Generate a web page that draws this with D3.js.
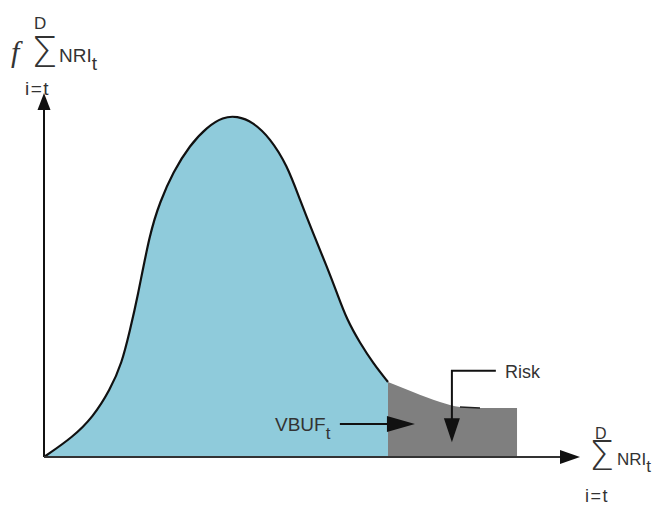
<!DOCTYPE html>
<html>
<head>
<meta charset="utf-8">
<script src="https://cdn.jsdelivr.net/npm/d3@7"></script>
<style>
  body { margin: 0; background: #fff; }
  text { font-family: "Liberation Sans", Arial, sans-serif; fill: #333; }
</style>
</head>
<body>
<script>
// density curve (x, y in arbitrary 0..100 units)
const curveX = [0, 5.41, 9.14, 12.31, 14.55, 16.04, 17.35, 19.78, 21.64, 24.07, 27.24, 30.41, 33.40, 36.01,
  38.99, 42.16, 45.34, 47.76, 50.19, 52.80, 54.66, 56.53, 58.96, 61.38, 64.18];
const curveY = [0, 5.52, 11.05, 18.51, 25.97, 35.08, 43.37, 62.15, 70.44, 78.73, 86.19, 91.16, 93.92, 94.20,
  92.54, 88.12, 80.66, 70.99, 61.88, 52.49, 45.30, 37.85, 31.49, 25.97, 20.72];

// shaded risk region (curve tail then flat cut-off)
const riskX = [64.18, 68.84, 73.88, 77.61, 81.34, 88.25];
const riskY = [20.72, 17.96, 15.19, 13.81, 13.54, 13.54];

// annotation arrows
const riskArrow = [[84.3, 23.8], [76.1, 23.8], [76.1, 4.1]];
const vbufArrow = [[55.2, 9.1], [69.2, 9.1]];

const W = 660, H = 505;
const svg = d3.select('body').append('svg').attr('width', W).attr('height', H);

const x = d3.scaleLinear().domain([0, 100]).range([44, 580]);
const y = d3.scaleLinear().domain([0, 100]).range([457, 95]);

const pts = curveX.map((v, i) => [v, curveY[i]]);
const riskPts = riskX.map((v, i) => [v, riskY[i]]);

const area = d3.area().x(d => x(d[0])).y0(y(0)).y1(d => y(d[1])).curve(d3.curveBasis);
const line = d3.line().x(d => x(d[0])).y(d => y(d[1])).curve(d3.curveBasis);

svg.append('path').attr('d', area(pts)).attr('fill', '#8fcbdb');
svg.append('path').attr('d', area.curve(d3.curveMonotoneX)(riskPts)).attr('fill', '#7f7f7f');
svg.append('path').attr('d', line(pts)).attr('fill', 'none').attr('stroke', '#111').attr('stroke-width', 2.2);
svg.append('path').attr('d', line(riskPts.slice(3, 5))).attr('fill', 'none').attr('stroke', '#222').attr('stroke-width', 1.5);

// arrowhead helper
function head(tx, ty, dx, dy, len, hw) {
  const bx = tx - dx * len, by = ty - dy * len;
  const nx = -dy, ny = dx;
  return `M${tx},${ty}L${bx + nx * hw},${by + ny * hw}L${bx - nx * hw},${by - ny * hw}Z`;
}

// axes
svg.append('line').attr('x1', x(0)).attr('y1', y(0)).attr('x2', x(0)).attr('y2', y(100) + 10)
  .attr('stroke', '#111').attr('stroke-width', 2);
svg.append('path').attr('d', head(x(0), y(100) - 2, 0, -1, 17, 6.5)).attr('fill', '#111');
svg.append('line').attr('x1', x(0)).attr('y1', y(0)).attr('x2', x(100) - 10).attr('y2', y(0))
  .attr('stroke', '#333').attr('stroke-width', 2);
svg.append('path').attr('d', head(x(100), y(0), 1, 0, 20, 7)).attr('fill', '#111');

// risk arrow
const aLine = d3.line().x(d => x(d[0])).y(d => y(d[1]));
const rEnd = riskArrow[riskArrow.length - 1];
svg.append('path').attr('d', aLine(riskArrow.slice(0, -1).concat([[rEnd[0], rEnd[1] + 6]])))
  .attr('fill', 'none').attr('stroke', '#111').attr('stroke-width', 2);
svg.append('path').attr('d', head(x(rEnd[0]), y(rEnd[1]), 0, 1, 24, 8)).attr('fill', '#111');

// vbuf arrow
const vEnd = vbufArrow[1];
svg.append('path').attr('d', aLine([vbufArrow[0], [vEnd[0] - 4, vEnd[1]]]))
  .attr('fill', 'none').attr('stroke', '#111').attr('stroke-width', 2);
svg.append('path').attr('d', head(x(vEnd[0]), y(vEnd[1]), 1, 0, 28, 8)).attr('fill', '#111');

// labels
svg.append('text').attr('x', 505).attr('y', 378).attr('font-size', 18).text('Risk');
const vb = svg.append('text').attr('x', 275).attr('y', 431).attr('font-size', 19);
vb.append('tspan').text('VBUF');
vb.append('tspan').attr('font-size', 17).attr('dy', 8).text('t');

// y-axis label
svg.append('text').attr('x', 11).attr('y', 62).attr('font-size', 30)
  .style('font-family', '"Liberation Serif", serif').style('font-style', 'italic').text('f');
svg.append('text').attr('x', 31).attr('y', 67).attr('font-size', 42)
  .style('font-family', '"DejaVu Sans", sans-serif').style('font-weight', 300).text('Σ');
svg.append('text').attr('x', 34).attr('y', 29).attr('font-size', 17).text('D');
const ny = svg.append('text').attr('x', 59).attr('y', 62).attr('font-size', 19);
ny.append('tspan').text('NRI');
ny.append('tspan').attr('dy', 8).text('t');
svg.append('text').attr('x', 25).attr('y', 95).attr('font-size', 19).attr('letter-spacing', 1.5).text('i=t');

// x-axis label
svg.append('text').attr('x', 595).attr('y', 439).attr('font-size', 16).text('D');
svg.append('text').attr('x', 589).attr('y', 470).attr('font-size', 40)
  .style('font-family', '"DejaVu Sans", sans-serif').style('font-weight', 300).text('Σ');
const nx = svg.append('text').attr('x', 617).attr('y', 465).attr('font-size', 17);
nx.append('tspan').text('NRI');
nx.append('tspan').attr('dy', 7).text('t');
svg.append('text').attr('x', 585).attr('y', 502).attr('font-size', 18).attr('letter-spacing', 1.5).text('i=t');
</script>
</body>
</html>
